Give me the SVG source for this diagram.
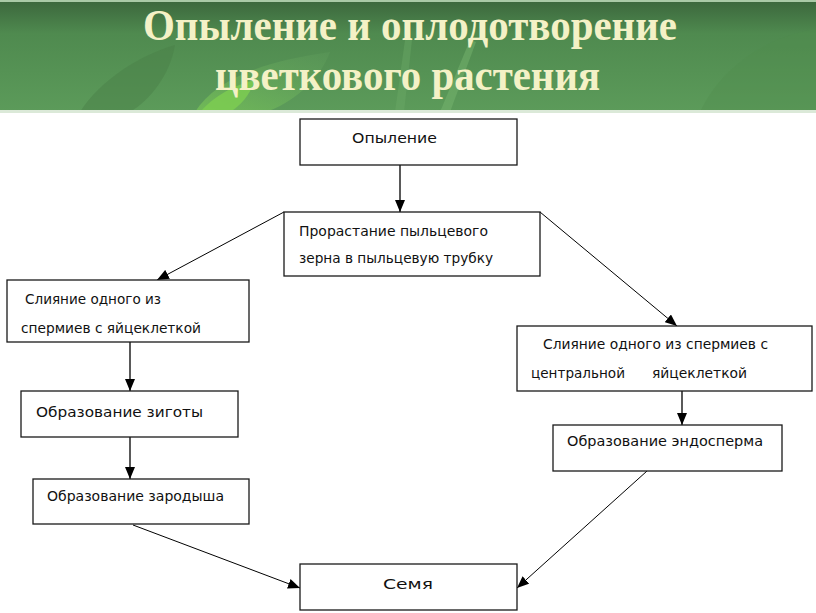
<svg xmlns="http://www.w3.org/2000/svg" width="816" height="613" viewBox="0 0 816 613">
  <defs>
    <linearGradient id="hdr" x1="0" y1="0" x2="0" y2="1">
      <stop offset="0" stop-color="#3b663c"/>
      <stop offset="0.3" stop-color="#4f8a4f"/>
      <stop offset="1" stop-color="#5c9b5a"/>
    </linearGradient>
    <linearGradient id="leaf" x1="0" y1="1" x2="1" y2="0">
      <stop offset="0" stop-color="#7fcf55"/>
      <stop offset="1" stop-color="#6aa866" stop-opacity="0.3"/>
    </linearGradient>
    <marker id="arr" viewBox="0 0 12 10" refX="12" refY="5" markerWidth="12" markerHeight="10" markerUnits="userSpaceOnUse" orient="auto">
      <path d="M0,0 L12,5 L0,10 z" fill="#000"/>
    </marker>
    <style>
      .box { fill: #fff; stroke: #1a1a1a; stroke-width: 1.3; }
      .lbl { font-family: "DejaVu Sans", "Liberation Sans", sans-serif; font-size: 14px; fill: #111; }
      .ttl { font-family: "Liberation Serif", "Times New Roman", serif; font-weight: bold; font-size: 44px; fill: #f4f1c6; }
      .con { stroke: #000; stroke-width: 1.3; fill: none; marker-end: url(#arr); }
      .thin { stroke-width: 1; }
    </style>
  </defs>

  <rect x="0" y="0" width="816" height="613" fill="#fff"/>

  <g id="header">
    <rect x="0" y="0" width="816" height="112" fill="url(#hdr)"/>
    <rect x="0" y="0" width="816" height="2" fill="#a9c9a6"/>
    <path d="M80,112 C100,80 140,55 175,45 C170,75 150,100 130,112 Z" fill="#4a8048" opacity="0.5"/>
    <path d="M195,112 C215,80 260,62 330,52 C320,80 290,105 265,112 Z" fill="url(#leaf)" opacity="0.6"/>
    <path d="M200,112 C215,95 235,85 255,80 C250,95 240,106 230,112 Z" fill="#7fd050" opacity="0.75"/>
    <path d="M395,112 L405,40 L412,40 L404,112 Z" fill="#6aa866" opacity="0.45"/>
    <path d="M440,112 L470,40 L476,42 L450,112 Z" fill="#7ab870" opacity="0.45"/>
    <path d="M700,112 C720,70 760,40 810,30 L816,30 L816,112 Z" fill="#4f8c4c" opacity="0.35"/>
    <rect x="0" y="110" width="816" height="3" fill="#dbe9d8"/>
    <text class="ttl" x="143" y="40" textLength="534" lengthAdjust="spacingAndGlyphs">Опыление и оплодотворение</text>
    <text class="ttl" x="215" y="90" textLength="385" lengthAdjust="spacingAndGlyphs">цветкового растения</text>
  </g>

  <g id="connectors">
    <line class="con" x1="400" y1="165" x2="400" y2="212"/>
    <line class="con thin" x1="284" y1="212" x2="157" y2="280"/>
    <line class="con thin" x1="540" y1="212" x2="677" y2="326"/>
    <line class="con" x1="130" y1="342" x2="130" y2="391"/>
    <line class="con" x1="130" y1="437" x2="130" y2="479"/>
    <line class="con" x1="682" y1="391" x2="682" y2="425"/>
    <line class="con thin" x1="133" y1="525" x2="300" y2="588"/>
    <line class="con thin" x1="647" y1="471" x2="517" y2="588"/>
  </g>

  <g id="n-opylenie">
    <rect class="box" x="300" y="119" width="217" height="46"/>
    <text class="lbl" x="352" y="143" textLength="85" lengthAdjust="spacingAndGlyphs">Опыление</text>
  </g>

  <g id="n-prorastanie">
    <rect class="box" x="284" y="212" width="256" height="64"/>
    <text class="lbl" x="299" y="236" textLength="189" lengthAdjust="spacingAndGlyphs">Прорастание  пыльцевого</text>
    <text class="lbl" x="299" y="263" textLength="194" lengthAdjust="spacingAndGlyphs">зерна в пыльцевую трубку</text>
  </g>

  <g id="n-sliyanie-1">
    <rect class="box" x="7" y="280" width="242" height="62"/>
    <text class="lbl" x="25" y="304" textLength="136" lengthAdjust="spacingAndGlyphs">Слияние одного из</text>
    <text class="lbl" x="21" y="333" textLength="180" lengthAdjust="spacingAndGlyphs">спермиев с яйцеклеткой</text>
  </g>

  <g id="n-zigota">
    <rect class="box" x="21" y="391" width="217" height="46"/>
    <text class="lbl" x="36" y="417" textLength="167" lengthAdjust="spacingAndGlyphs">Образование зиготы</text>
  </g>

  <g id="n-zarodysh">
    <rect class="box" x="33" y="479" width="216" height="45"/>
    <text class="lbl" x="47" y="501" textLength="177" lengthAdjust="spacingAndGlyphs">Образование зародыша</text>
  </g>

  <g id="n-sliyanie-2">
    <rect class="box" x="517" y="326" width="295" height="65"/>
    <text class="lbl" x="543" y="349" textLength="225" lengthAdjust="spacingAndGlyphs">Слияние одного из спермиев с</text>
    <text class="lbl" x="531" y="378" textLength="94" lengthAdjust="spacingAndGlyphs">центральной</text>
    <text class="lbl" x="652" y="378" textLength="95" lengthAdjust="spacingAndGlyphs">яйцеклеткой</text>
  </g>

  <g id="n-endosperm">
    <rect class="box" x="553" y="425" width="229" height="46"/>
    <text class="lbl" x="567" y="446" textLength="196" lengthAdjust="spacingAndGlyphs">Образование эндосперма</text>
  </g>

  <g id="n-semya">
    <rect class="box" x="300" y="564" width="217" height="46"/>
    <text class="lbl" x="383" y="589" textLength="50" lengthAdjust="spacingAndGlyphs">Семя</text>
  </g>
</svg>
